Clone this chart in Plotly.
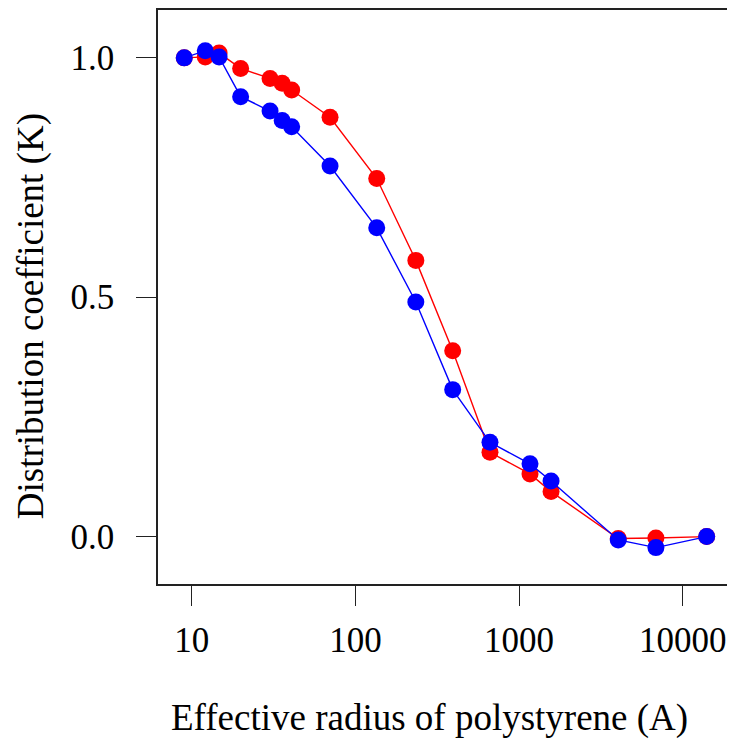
import plotly.graph_objects as go

radius = [9.0, 12.1, 14.7, 19.9, 30.1, 35.7, 40.8, 70.0, 135, 234, 393, 664, 1166, 1568, 4036, 6855, 14000]
k_red = [1.000, 1.002, 1.010, 0.978, 0.957, 0.947, 0.933, 0.876, 0.748, 0.577, 0.388, 0.176, 0.131, 0.094, -0.004, -0.003, 0.000]
k_blue = [1.000, 1.015, 1.002, 0.919, 0.889, 0.869, 0.856, 0.774, 0.645, 0.490, 0.307, 0.197, 0.152, 0.116, -0.007, -0.023, 0.000]

x_ticks = [10, 100, 1000, 10000]
x_ticktext = ["10", "100", "1000", "10000"]
y_ticks = [0.0, 0.5, 1.0]
y_ticktext = ["0.0", "0.5", "1.0"]

x_title = "Effective radius of polystyrene (A)"
y_title = "Distribution coefficient (K)"

FONT = "Liberation Serif, Times New Roman, Times, serif"

fig = go.Figure()
fig.add_trace(go.Scatter(x=radius, y=k_red, mode="lines+markers",
                         line=dict(color="#FF0000", width=1.4),
                         marker=dict(color="#FF0000", size=17), showlegend=False))
fig.add_trace(go.Scatter(x=radius, y=k_blue, mode="lines+markers",
                         line=dict(color="#0000FF", width=1.4),
                         marker=dict(color="#0000FF", size=17), showlegend=False))

axis_common = dict(showgrid=False, zeroline=False, showline=True, linecolor="#222222",
                   linewidth=1.5, mirror=True, ticks="outside", ticklen=20, tickwidth=1.3,
                   tickcolor="#222222", automargin=False,
                   tickfont=dict(family=FONT, size=35, color="black"))

fig.update_xaxes(type="log", range=[0.794, 4.307], tickvals=x_ticks, ticktext=x_ticktext,
                 ticklabelstandoff=4, **axis_common)
fig.update_yaxes(range=[-0.099, 1.10], tickvals=y_ticks, ticktext=y_ticktext,
                 ticklabelstandoff=15, **axis_common)

fig.add_annotation(text=x_title, xref="paper", yref="paper", x=0.473, y=-0.2343,
                   xanchor="center", yanchor="middle", showarrow=False,
                   font=dict(family=FONT, size=37, color="black"))
fig.add_annotation(text=y_title, xref="paper", yref="paper", x=-0.2217, y=0.4657,
                   xanchor="center", yanchor="middle", showarrow=False, textangle=-90,
                   font=dict(family=FONT, size=37, color="black"))

fig.update_layout(width=727, height=731, margin=dict(l=150, r=2, t=2, b=155),
                  paper_bgcolor="white", plot_bgcolor="white",
                  font=dict(family=FONT, color="black"))

fig.write_html("out.html")
